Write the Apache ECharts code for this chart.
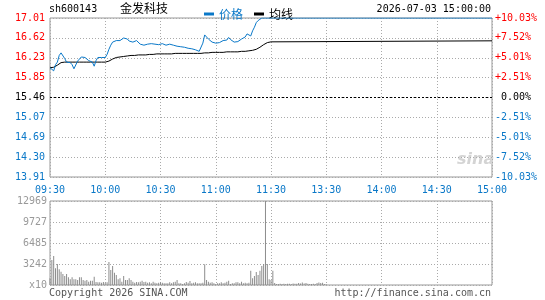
<!DOCTYPE html>
<html>
<head>
<meta charset="utf-8">
<script src="https://cdn.jsdelivr.net/npm/echarts@6/dist/echarts.min.js"></script>
<style>
  html, body { margin: 0; padding: 0; background: #fff; }
  #chart { width: 545px; height: 300px; }
</style>
</head>
<body>
<div id="chart"></div>
<script>
// tick labels
const timeLabels = ['09:30', '10:00', '10:30', '11:00', '11:30', '13:30', '14:00', '14:30', '15:00'];
const priceLabels = ['13.91', '14.30', '14.69', '15.07', '15.46', '15.85', '16.23', '16.62', '17.01'];
const pctLabels = ['-10.03%', '-7.52%', '-5.01%', '-2.51%', ' 0.00%', '+2.51%', '+5.01%', '+7.52%', '+10.03%'];
const volLabels = ['x10', '3242', '6485', '9727', '12969'];

// price range (prev close 15.46)
const priceMin = 13.91;
const priceMax = 17.01;
const prevClose = 15.46;
const volMax = 12969;

// morning, one value per minute from 09:30 (index = minute)
const priceAM = [
  16.04, 16.07, 15.98, 16.10, 16.15, 16.28, 16.33, 16.30, 16.22, 16.15,
  16.12, 16.14, 16.10, 16.02, 16.05, 16.17, 16.20, 16.25, 16.27, 16.24,
  16.22, 16.18, 16.18, 16.15, 16.07, 16.18, 16.24, 16.26, 16.24, 16.25,
  16.24, 16.30, 16.40, 16.48, 16.54, 16.57, 16.57, 16.56, 16.57, 16.57,
  16.62, 16.65, 16.60, 16.56, 16.59, 16.54, 16.56, 16.57, 16.56, 16.50,
  16.47, 16.48, 16.47, 16.50, 16.52, 16.51, 16.49, 16.50, 16.49, 16.49,
  16.50, 16.51, 16.50, 16.48, 16.49, 16.50, 16.49, 16.48, 16.47, 16.46,
  16.45, 16.45, 16.44, 16.44, 16.43, 16.42, 16.41, 16.41, 16.40, 16.39,
  16.38, 16.36, 16.38, 16.52, 16.68, 16.66, 16.60, 16.57, 16.54, 16.56,
  16.52, 16.55, 16.53, 16.56, 16.57, 16.56, 16.58, 16.63, 16.59, 16.56,
  16.54, 16.54, 16.55, 16.57, 16.60, 16.63, 16.64, 16.70, 16.67, 16.66,
  16.76, 16.83, 16.92, 16.96, 16.99, 17.01, 17.01, 17.01, 17.01, 17.01,
  17.01
];
const avgAM = [
  16.04, 16.06, 16.05, 16.07, 16.09, 16.12, 16.14, 16.15, 16.15, 16.15,
  16.15, 16.15, 16.15, 16.15, 16.15, 16.15, 16.15, 16.15, 16.15, 16.15,
  16.15, 16.15, 16.15, 16.15, 16.15, 16.15, 16.15, 16.15, 16.15, 16.15,
  16.15, 16.15, 16.17, 16.19, 16.21, 16.23, 16.24, 16.25, 16.25, 16.26,
  16.26, 16.27, 16.27, 16.27, 16.28, 16.28, 16.28, 16.28, 16.29, 16.29,
  16.29, 16.29, 16.29, 16.30, 16.30, 16.30, 16.30, 16.31, 16.31, 16.31,
  16.31, 16.31, 16.31, 16.31, 16.31, 16.31, 16.31, 16.32, 16.32, 16.32,
  16.32, 16.32, 16.32, 16.32, 16.32, 16.32, 16.32, 16.32, 16.32, 16.32,
  16.32, 16.32, 16.32, 16.33, 16.33, 16.33, 16.33, 16.33, 16.34, 16.34,
  16.34, 16.34, 16.34, 16.34, 16.34, 16.35, 16.35, 16.35, 16.35, 16.35,
  16.35, 16.35, 16.35, 16.36, 16.36, 16.36, 16.36, 16.37, 16.37, 16.38,
  16.38, 16.39, 16.40, 16.42, 16.44, 16.47, 16.49, 16.52, 16.53, 16.54,
  16.545
];

// afternoon: price sealed at limit-up
const pmMinutes = [121, 240];
const pricePM = [17.01, 17.01];
const avgPM = [16.55, 16.565];

// volume (lots x10), one bar per minute
const volAM = [
  1030, 3860, 4480, 2570, 3240, 2420, 2060, 1700, 1390, 1700,
  1180, 870, 1180, 870, 870, 770, 1180, 1180, 770, 670,
  770, 510, 670, 670, 1290, 460, 410, 410, 360, 460,
  360, 410, 3550, 2320, 2930, 1900, 1540, 870, 1030, 510,
  1390, 770, 770, 1030, 770, 510, 360, 460, 410, 510,
  670, 460, 510, 360, 410, 260, 510, 360, 260, 360,
  410, 360, 260, 260, 260, 410, 260, 410, 510, 770,
  260, 260, 150, 260, 460, 360, 620, 260, 360, 410,
  260, 260, 260, 360, 3190, 770, 510, 360, 410, 260,
  150, 260, 260, 410, 260, 360, 510, 670, 150, 260,
  260, 410, 410, 260, 510, 260, 360, 260, 360, 2210,
  1030, 1390, 2010, 1540, 2210, 2930, 3240, 12969, 3240, 870,
  770
];
const volPM = [
  2210, 310, 150, 150, 200, 150, 200, 150, 200, 200,
  150, 250, 200, 200, 300, 250, 400, 250, 300, 200,
  150, 150, 200, 150, 300, 400, 300, 350, 150, 100,
  0, 0, 0, 0, 0, 0, 0, 0, 0, 0,
  0, 0, 0, 0, 0, 0, 0, 0, 0, 0,
  0, 0, 0, 0, 0, 0, 0, 0, 0, 0,
  0, 0, 0, 0, 0, 0, 0, 0, 0, 0,
  0, 0, 0, 0, 0, 0, 0, 0, 0, 0,
  0, 0, 0, 0, 0, 0, 0, 0, 0, 0,
  0, 0, 0, 0, 0, 0, 0, 0, 0, 0,
  0, 0, 0, 0, 0, 0, 0, 0, 0, 0,
  0, 0, 0, 0, 0, 0, 0, 0, 0, 0
];

const MONO = 'DejaVu Sans Mono';
const CJK = 'Noto Sans CJK SC';
const BLUE = '#0a78c8';
const RED = '#ff0000';
const GRID_GRAY = '#aaaaaa';

const priceData = priceAM.map((v, i) => [i, v]).concat(pmMinutes.map((m, i) => [m, pricePM[i]]));
const avgData = avgAM.map((v, i) => [i, v]).concat(pmMinutes.map((m, i) => [m, avgPM[i]]));
const volData = volAM.concat(volPM).map((v, i) => [i, v]);

const chart = echarts.init(document.getElementById('chart'), null, { renderer: 'canvas' });

const dotted = { color: GRID_GRAY, type: [1, 2], width: 1 };

// label colour by tick: below prev close blue, at it black, above red
const tickStyle = v => {
  const k = Math.round(v + 4);
  return { k, s: k < 4 ? 'b' : (k === 4 ? 'k' : 'r') };
};
const labelRich = {
  r: { color: RED, fontFamily: MONO, fontSize: 10 },
  k: { color: '#000', fontFamily: MONO, fontSize: 10 },
  b: { color: BLUE, fontFamily: MONO, fontSize: 10 }
};

const option = {
  animation: false,
  backgroundColor: '#fff',
  textStyle: { fontFamily: MONO },
  legend: {
    left: 199,
    top: 3,
    itemWidth: 10,
    itemHeight: 3,
    itemGap: 11,
    icon: 'rect',
    selectedMode: false,
    data: [
      { name: '价格', textStyle: { color: BLUE } },
      { name: '均线', textStyle: { color: '#000' } }
    ],
    textStyle: { fontFamily: CJK, fontSize: 12 }
  },
  grid: [
    { left: 50, right: 53, top: 18, height: 159, show: true, borderColor: '#999', borderWidth: 1, backgroundColor: 'transparent' },
    { left: 50, right: 53, top: 201, height: 84, show: true, borderColor: '#999', borderWidth: 1, backgroundColor: 'transparent' }
  ],
  xAxis: [
    {
      gridIndex: 0, type: 'value', min: 0, max: 240, interval: 30,
      axisLine: { show: false }, axisTick: { show: false },
      axisLabel: {
        color: BLUE, fontFamily: MONO, fontSize: 10, margin: 8,
        formatter: v => timeLabels[Math.round(v / 30)]
      },
      splitLine: { show: true, lineStyle: dotted }
    },
    {
      gridIndex: 1, type: 'value', min: 0, max: 240, interval: 30,
      axisLine: { show: false }, axisTick: { show: false },
      axisLabel: { show: false },
      splitLine: { show: true, lineStyle: dotted }
    }
  ],
  yAxis: [
    // price data axis
    { gridIndex: 0, type: 'value', min: priceMin, max: priceMax, show: false },
    // left price labels
    {
      gridIndex: 0, type: 'value', position: 'left', min: -4, max: 4, interval: 1,
      axisLine: { show: false }, axisTick: { show: false },
      axisLabel: {
        margin: 5,
        formatter: v => { const t = tickStyle(v); return '{' + t.s + '|' + priceLabels[t.k] + '}'; },
        rich: labelRich
      },
      splitLine: { show: true, lineStyle: dotted }
    },
    // right percent labels
    {
      gridIndex: 0, type: 'value', position: 'right', min: -4, max: 4, interval: 1,
      axisLine: { show: false }, axisTick: { show: false },
      axisLabel: {
        margin: 3,
        align: 'left',
        formatter: v => { const t = tickStyle(v); return '{' + t.s + '|' + pctLabels[t.k] + '}'; },
        rich: labelRich
      },
      splitLine: { show: false }
    },
    // volume data axis
    { gridIndex: 1, type: 'value', min: 0, max: volMax, show: false },
    // volume labels
    {
      gridIndex: 1, type: 'value', position: 'left', min: 0, max: 4, interval: 1,
      axisLine: { show: false }, axisTick: { show: false },
      axisLabel: {
        margin: 3, color: '#999', fontFamily: MONO, fontSize: 10,
        formatter: v => volLabels[Math.round(v)]
      },
      splitLine: { show: true, lineStyle: dotted }
    }
  ],
  graphic: [
    { type: 'text', left: 49, top: 4, style: { text: 'sh600143', fill: '#000', font: '10px "DejaVu Sans Mono"' } },
    { type: 'text', left: 120, top: 2, style: { text: '金发科技', fill: '#000', font: '12px "Noto Sans CJK SC"' } },
    { type: 'text', right: 54, top: 4, style: { text: '2026-07-03 15:00:00', fill: '#000', font: '10px "DejaVu Sans Mono"' } },
    // sina watermark
    { type: 'text', left: 457, top: 152, style: { text: 'sina', fill: '#d4d4d4', font: 'italic bold 16px "DejaVu Sans"' } },
    { type: 'text', left: 49, top: 288, style: { text: 'Copyright 2026 SINA.COM', fill: '#555', font: '10px "DejaVu Sans Mono"' } },
    { type: 'text', right: 54, top: 288, style: { text: 'http://finance.sina.com.cn', fill: '#555', font: '10px "DejaVu Sans Mono"' } }
  ],
  series: [
    {
      name: '价格', type: 'line', xAxisIndex: 0, yAxisIndex: 0,
      data: priceData, showSymbol: false, symbol: 'none',
      lineStyle: { color: BLUE, width: 1 }, itemStyle: { color: BLUE },
      markLine: {
        silent: true, symbol: 'none', label: { show: false },
        lineStyle: { color: '#000', type: [2, 2], width: 1 },
        data: [{ yAxis: prevClose }]
      },
      z: 5
    },
    {
      name: '均线', type: 'line', xAxisIndex: 0, yAxisIndex: 0,
      data: avgData, showSymbol: false, symbol: 'none',
      lineStyle: { color: '#000', width: 1 }, itemStyle: { color: '#000' },
      z: 4
    },
    {
      name: '成交量', type: 'bar', xAxisIndex: 1, yAxisIndex: 3,
      data: volData, barWidth: 1, itemStyle: { color: '#8c8c8c' }
    }
  ]
};

chart.setOption(option);
</script>
</body>
</html>
